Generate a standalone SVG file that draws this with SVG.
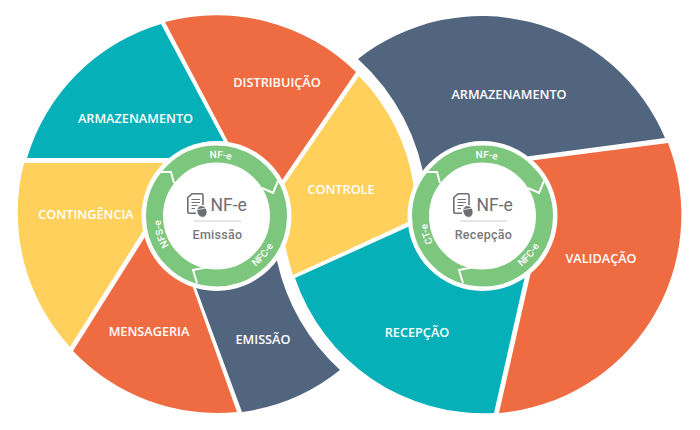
<svg xmlns="http://www.w3.org/2000/svg" xmlns:xlink="http://www.w3.org/1999/xlink" width="700" height="430" viewBox="0 0 700 430">
<style>
.o{fill:#EF6C42}.t{fill:#06B0B9}.y{fill:#FFD15C}.n{fill:#51657E}
.l{font-family:"Open Sans","Liberation Sans",sans-serif;font-weight:600;font-size:12.700px;fill:#fff;text-anchor:middle}
.r{font-family:Roboto,"Liberation Sans",sans-serif;font-weight:500;font-size:10px;fill:#fff;text-anchor:middle}
.h{font-family:Roboto,"Liberation Sans",sans-serif;font-size:17.500px;fill:#6D6E71}
.s{font-family:Roboto,"Liberation Sans",sans-serif;font-weight:500;font-size:12.500px;fill:#77787B;text-anchor:middle;letter-spacing:.3px}
.c{fill:none;stroke:#fff;stroke-width:2}
</style>
<defs>
<path id="pTop" d="M182.4,169.1A58 58 0 0 1 256.8,174.3"/>
<path id="pRight" d="M227.6,279A64 64 0 0 0 280.5,216"/>
<path id="pLeft" d="M186.8,263.5A56 56 0 0 1 164.6,195"/>
<g id="ring">
<circle cx="216.5" cy="216" r="75" fill="#fff"/>
<circle cx="216.5" cy="216" r="62" fill="none" stroke="#7DC67D" stroke-width="17"/>
<polyline class="c" points="278,181 273,193 262,188"/>
<polyline class="c" points="197,283 193,270 208,267"/>
<polyline class="c" points="160,172 171,172 174,183"/>
</g>
<g id="icon" fill="none" stroke="#6D6E71">
<path stroke-width="1.600" stroke-linejoin="round" d="M196,213.200H189.500Q187.800,213.200 187.800,211.500V197.500L192,193.800H201.500Q203,193.800 203,195.300V205"/>
<path stroke-width="1" d="M191.500,199.500H200M191.500,202.500H200M191.500,205.500H197.500M191.500,208.500H195"/>
<ellipse cx="202" cy="211.500" rx="5" ry="6" transform="rotate(-20 202 211.500)" fill="#6D6E71" stroke="#fff" stroke-width=".8"/>
<path stroke="#fff" stroke-width=".8" d="M198,209.500L206,208"/>
</g>
</defs>
<g id="emissao-wheel">
<g id="s-armazenamento-1"><path class="t" d="M27,158A199 199 0 0 1 161,24L232.7,158Z"/><text class="l" x="135.500" y="122.500">ARMAZENAMENTO</text></g>
<g id="s-distribuicao"><path class="o" d="M165,22A199 199 0 0 1 356,72L263,208Z"/><text class="l" x="277" y="87">DISTRIBUIÇÃO</text></g>
<g id="s-controle"><path class="y" d="M359,76A199 199 0 0 1 414,188L430,212L293,275A199 199 0 0 1 286,248L270,205Z"/><text class="l" x="341" y="193.500">CONTROLE</text></g>
<g id="s-contingencia"><path class="y" d="M24,163L170,163L170,188L70,347A199 199 0 0 1 24,163Z"/><text class="l" x="86" y="218.500">CONTINGÊNCIA</text></g>
<g id="s-mensageria"><path class="o" d="M73,351L155,221L180,251L237,412A199 199 0 0 1 73,351Z"/><text class="l" x="149" y="335.500">MENSAGERIA</text></g>
<g id="s-emissao"><path class="n" d="M242,412L185,258L265,250L277,261A211 211 0 0 0 340,370A199 199 0 0 1 242,412Z"/><text class="l" x="263" y="343.500">EMISSÃO</text></g>
</g>
<g id="recepcao-wheel">
<g id="s-armazenamento-2"><path class="n" d="M358,59A199 199 0 0 1 665,138L500,160L426,190A211 211 0 0 0 358,59Z"/><text class="l" x="509" y="98.500">ARMAZENAMENTO</text></g>
<g id="s-validacao"><path class="o" d="M668,143A199 199 0 0 1 499,413L537,245L520,162Z"/><text class="l" x="601" y="262.500">VALIDAÇÃO</text></g>
<g id="s-recepcao"><path class="t" d="M430,217L295,278A199 199 0 0 0 494,413L532,245Z"/><text class="l" x="417" y="336.500">RECEPÇÃO</text></g>
</g>
<g id="hub-emissao">
<use href="#ring" xlink:href="#ring"/>
<text class="r"><textPath href="#pTop" xlink:href="#pTop" startOffset="50%">NF-e</textPath></text>
<text class="r"><textPath href="#pRight" xlink:href="#pRight" startOffset="50%">NFC-e</textPath></text>
<text class="r"><textPath href="#pLeft" xlink:href="#pLeft" startOffset="50%">NFS-e</textPath></text>
<use href="#icon" xlink:href="#icon"/>
<text class="h" x="210.500" y="210.500">NF-e</text>
<line x1="194" y1="221" x2="241" y2="221" stroke="#D0D0D0"/>
<text class="s" x="217.500" y="239">Emissão</text>
</g>
<g id="hub-recepcao" transform="translate(266,0)">
<use href="#ring" xlink:href="#ring"/>
<text class="r"><textPath href="#pTop" xlink:href="#pTop" startOffset="50%">NF-e</textPath></text>
<text class="r"><textPath href="#pRight" xlink:href="#pRight" startOffset="50%">NFC-e</textPath></text>
<text class="r"><textPath href="#pLeft" xlink:href="#pLeft" startOffset="50%">CT-e</textPath></text>
<use href="#icon" xlink:href="#icon"/>
<text class="h" x="210.500" y="210.500">NF-e</text>
<line x1="194" y1="221" x2="241" y2="221" stroke="#D0D0D0"/>
<text class="s" x="217.500" y="239">Recepção</text>
</g>
</svg>
